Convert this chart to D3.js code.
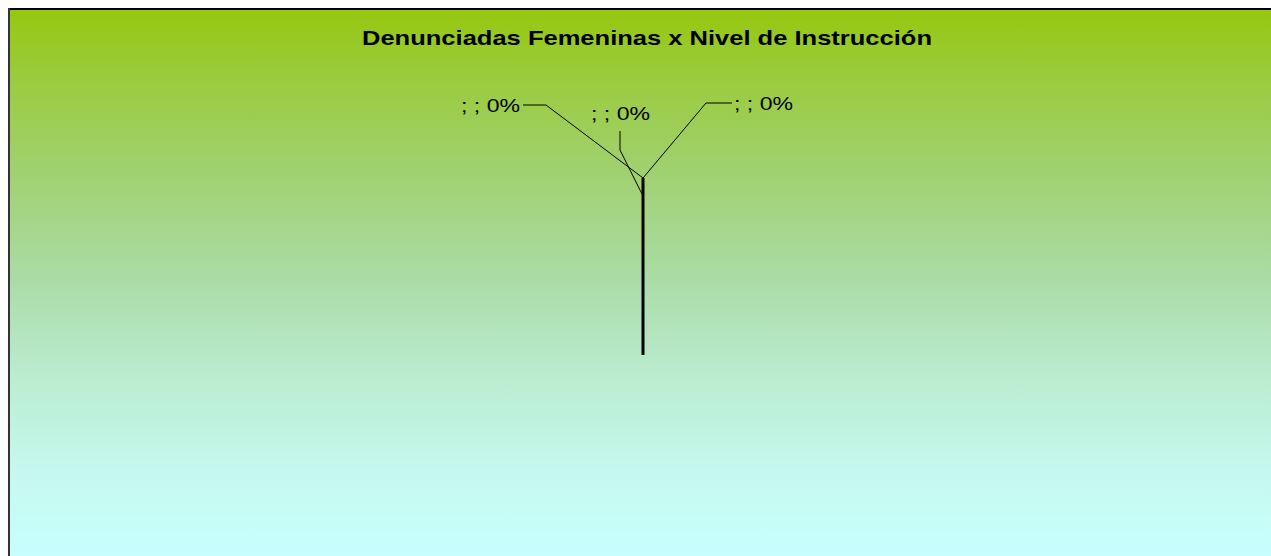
<!DOCTYPE html>
<html><head><meta charset="utf-8">
<script src="https://cdn.jsdelivr.net/npm/d3@7"></script>
<style>html,body{margin:0;padding:0;background:#fff;overflow:hidden}</style>
</head><body>
<script>
const title = "Denunciadas Femeninas x Nivel de Instrucción";
const seriesName = "";
const categories = ["", "", ""];
const values = [0, 0, 0];

const W = 1271, H = 556;
const svg = d3.select("body").append("svg").attr("width", W).attr("height", H);
const defs = svg.append("defs");
const g = defs.append("linearGradient").attr("id","bg").attr("gradientUnits","userSpaceOnUse")
  .attr("x1",0).attr("y1",9).attr("x2",0).attr("y2",H);
[[0,"#95c80e"],[0.12,"#9acb3c"],[0.3,"#a0d170"],[0.5,"#abdca8"],[0.68,"#bbedd2"],[0.85,"#c5f9ee"],[1,"#c8fffe"]]
  .forEach(([o,c])=>g.append("stop").attr("offset",o).attr("stop-color",c));

svg.append("rect").attr("x",9).attr("y",9).attr("width",1400).attr("height",700).attr("fill","url(#bg)");
svg.append("line").attr("x1",9).attr("x2",W).attr("y1",9).attr("y2",9).attr("stroke","#000").attr("stroke-width",2);
svg.append("line").attr("x1",9).attr("x2",9).attr("y1",8).attr("y2",H).attr("stroke","#333").attr("stroke-width",2);

svg.append("text").attr("x",362).attr("y",45)
  .attr("font-family","Liberation Sans, Arial, sans-serif").attr("font-weight","bold").attr("font-size",21)
  .attr("textLength",570).attr("lengthAdjust","spacingAndGlyphs")
  .text(title);

const cx = 643, cy = 355, R = 177;
const pie = d3.pie().sort(null).value(d=>d);
const arcs = pie(values);
const arc = d3.arc().innerRadius(0).outerRadius(R);
const pg = svg.append("g").attr("transform",`translate(${cx},${cy})`);
pg.selectAll("path.slice").data(arcs).join("path").attr("class","slice")
  .attr("d",arc).attr("fill","none").attr("stroke","#000").attr("stroke-width",1.2);
const edge = d3.arc().innerRadius(R).outerRadius(R);
pg.append("line").attr("x1",0).attr("y1",0)
  .attr("x2",edge.centroid(arcs[0])[0]).attr("y2",edge.centroid(arcs[0])[1])
  .attr("stroke","#000").attr("stroke-width",3);

// label layout (offsets relative to slice edge point)
const labelLayout = [
  {end:[0,0], elbow:[-97,-73], tail:[-120,-73], text:[-182,-66]},
  {end:[-1,16], elbow:[-23,-28], tail:[-23,-47], text:[-52,-58]},
  {end:[0,0], elbow:[63,-75], tail:[89,-75], text:[91,-68]}
];
const fmt = d3.format(".0%");
const total = d3.sum(values);
arcs.forEach((a,i)=>{
  const p = edge.centroid(a);
  const L = labelLayout[i];
  const pts = [[p[0]+L.end[0],p[1]+L.end[1]],[p[0]+L.elbow[0],p[1]+L.elbow[1]],[p[0]+L.tail[0],p[1]+L.tail[1]]];
  pg.append("path").attr("d",d3.line()(pts)).attr("fill","none").attr("stroke","#000").attr("stroke-width",1);
  pg.append("text").attr("x",p[0]+L.text[0]).attr("y",p[1]+L.text[1])
    .attr("font-family","Liberation Sans, Arial, sans-serif").attr("font-size",19)
    .attr("textLength",59).attr("lengthAdjust","spacingAndGlyphs")
    .text(`${seriesName}; ${categories[i]}; ${fmt(total? a.value/total : 0)}`);
});
</script>
</body></html>
